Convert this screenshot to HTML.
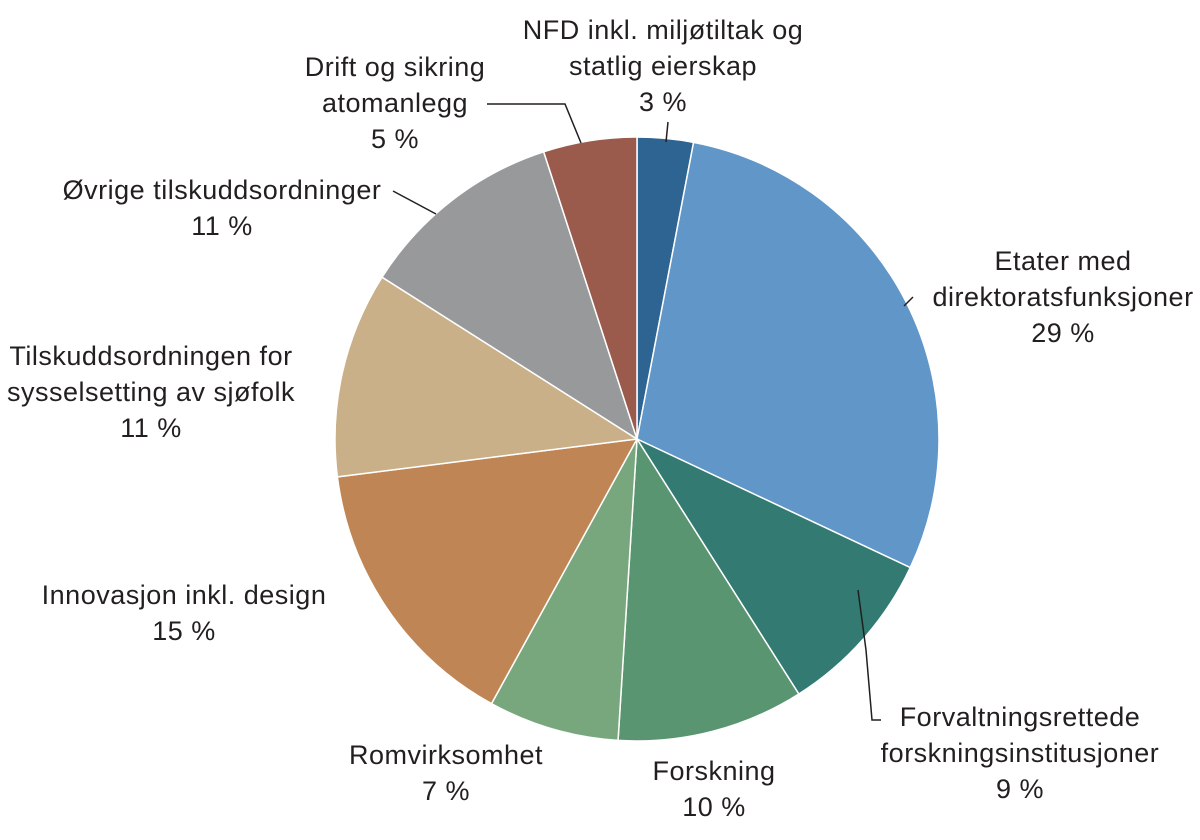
<!DOCTYPE html>
<html><head><meta charset="utf-8"><style>
html,body{margin:0;padding:0;background:#fff}
svg{display:block}
text{font-family:"Liberation Sans",sans-serif;font-size:27px;letter-spacing:0.5px;fill:#231f20}
</style></head><body>
<svg id="chart" width="1200" height="840">
<g id="slices"></g>
<g id="leaders" stroke="#231f20" stroke-width="1.5" fill="none">
<polyline points="668,122 666,142"/>
<polyline points="487,104 565,104 581,143"/>
<polyline points="393,191 436,214"/>
<polyline points="913,297 904,306"/>
<polyline points="858,590 866,650 872,720 881,720"/>
</g>
<g id="labels"></g>
</svg>
<script>
const categories=["NFD inkl. miljøtiltak og statlig eierskap","Etater med direktoratsfunksjoner","Forvaltningsrettede forskningsinstitusjoner","Forskning","Romvirksomhet","Innovasjon inkl. design","Tilskuddsordningen for sysselsetting av sjøfolk","Øvrige tilskuddsordninger","Drift og sikring atomanlegg"];
const values=[3,29,9,10,7,15,11,11,5];
const valueLabels=["3 %","29 %","9 %","10 %","7 %","15 %","11 %","11 %","5 %"];
const colors=["#2e6491","#6196c8","#327a72","#5a9572","#78a77d","#c08554","#c9b088","#97999b","#9a5a4c"];
const labelLines=[["NFD inkl. miljøtiltak og","statlig eierskap"],["Etater med","direktoratsfunksjoner"],["Forvaltningsrettede","forskningsinstitusjoner"],["Forskning"],["Romvirksomhet"],["Innovasjon inkl. design"],["Tilskuddsordningen for","sysselsetting av sjøfolk"],["Øvrige tilskuddsordninger"],["Drift og sikring","atomanlegg"]];
const labelPos=[[663,32],[1063,263],[1020,719],[714,773],[446,757],[184,597],[151,358],[222,192],[395,69]];
const cx=637,cy=439,R=302,ns="http://www.w3.org/2000/svg";
const total=values.reduce((a,b)=>a+b,0);
const g=document.getElementById('slices'),lg=document.getElementById('labels');
function pt(f){const a=f*2*Math.PI;return [cx+R*Math.sin(a),cy-R*Math.cos(a)];}
let acc=0;
values.forEach((v,i)=>{
  const s=acc/total,e=(acc+v)/total;acc+=v;
  const [x1,y1]=pt(s),[x2,y2]=pt(e);
  const p=document.createElementNS(ns,'path');
  p.setAttribute('d',`M${cx},${cy}L${x1},${y1}A${R},${R} 0 ${e-s>0.5?1:0} 1 ${x2},${y2}Z`);
  p.setAttribute('fill',colors[i]);p.setAttribute('stroke','#fff');p.setAttribute('stroke-width','1.5');
  
  
  g.appendChild(p);
  const lines=labelLines[i].concat([valueLabels[i]]);
  const [lx,ly]=labelPos[i];
  lines.forEach((t,j)=>{
    const tx=document.createElementNS(ns,'text');
    tx.setAttribute('x',lx);tx.setAttribute('y',ly+j*36);
    tx.setAttribute('text-anchor','middle');tx.setAttribute('dominant-baseline','middle');
    tx.textContent=t;
    
    
    lg.appendChild(tx);
  });
});
</script>
</body></html>
